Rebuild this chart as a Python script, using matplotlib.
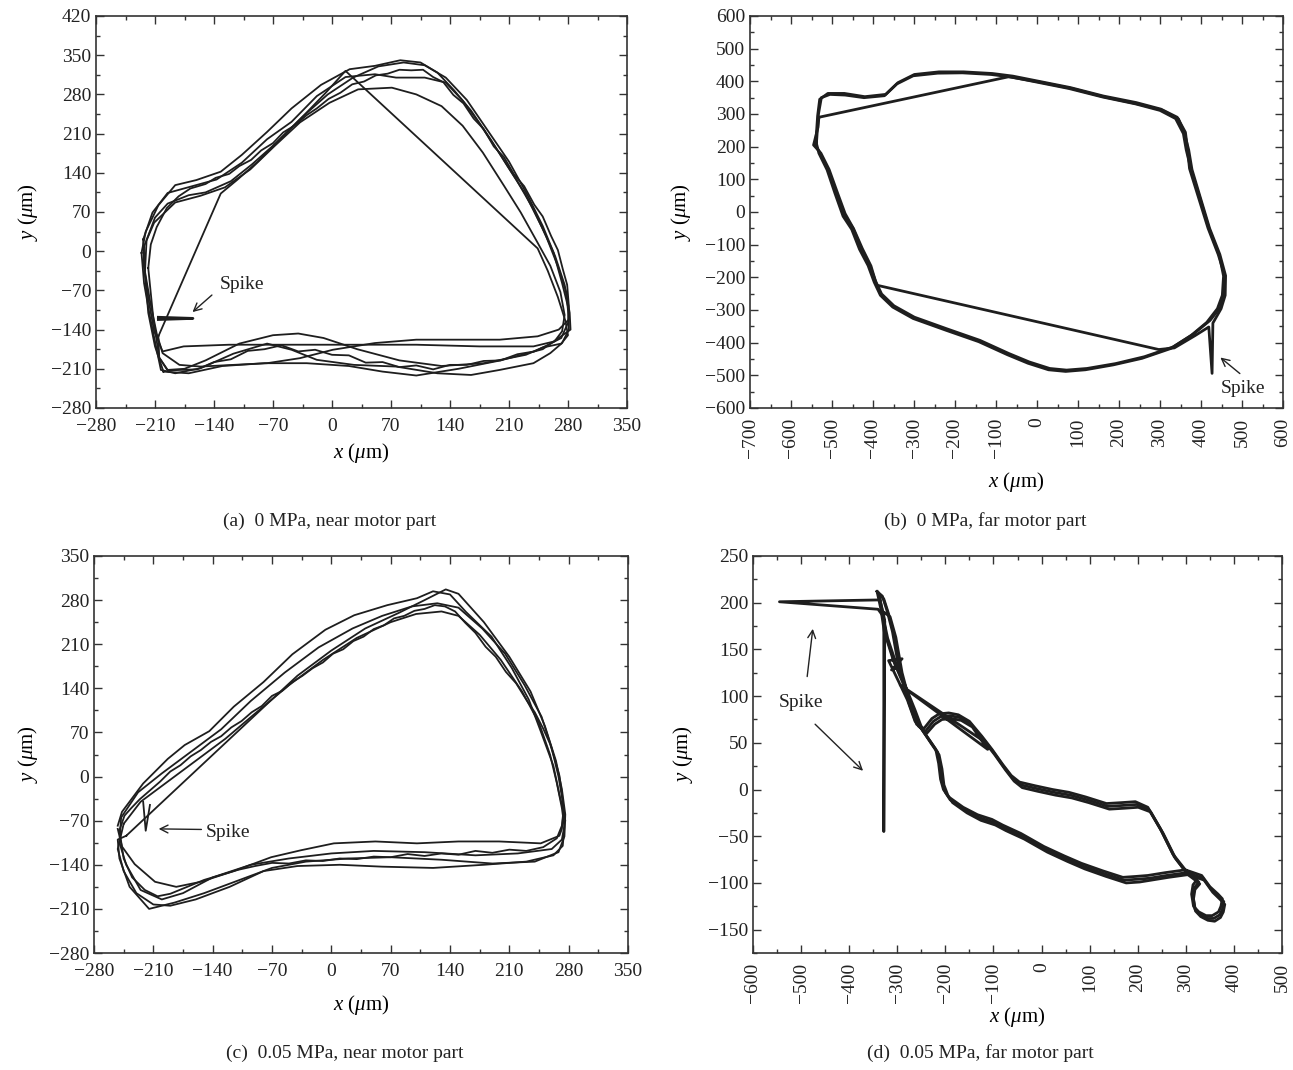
import numpy as np
import matplotlib
matplotlib.use("Agg")
import matplotlib.pyplot as plt
from matplotlib.ticker import MultipleLocator

plt.rcParams['font.family'] = ['Liberation Serif', 'DejaVu Serif']
plt.rcParams['font.size'] = 14
plt.rcParams['mathtext.fontset'] = 'custom'
plt.rcParams['mathtext.rm'] = 'Liberation Serif'
plt.rcParams['mathtext.it'] = 'Liberation Serif:italic'

LINE = '#1e1e1e'

# ---------------- (a) 0 MPa, near motor part ----------------
a_lap1_x = [-226, -221, -206, -186, -161, -132, -107, -77, -48, -13, 21, 51, 81, 105, 125, 145, 165, 189, 209,
            229, 249, 263, 273, 281, 281, 273, 259, 239, 199, 165, 125, 76, 26, -18, -48, -77, -117, -156, -186,
            -203, -208, -216, -223, -226]
a_lap1_y = [-3, 35, 82, 118, 127, 142, 172, 213, 255, 297, 325, 331, 341, 337, 319, 287, 251, 198, 150,
            103, 43, -3, -57, -105, -140, -164, -182, -200, -212, -221, -218, -206, -203, -194, -176, -165, -183,
            -209, -218, -212, -176, -117, -57, -3]
a_lap2_x = [-223, -211, -186, -156, -127, -97, -68, -38, -3, 31, 71, 100, 130, 155, 179, 204, 224, 244, 259,
            271, 276, 273, 264, 239, 175, 100, 26, -48, -122, -176, -201, -211, -218, -223, -223]
a_lap2_y = [9, 51, 87, 99, 114, 146, 188, 230, 265, 289, 292, 280, 259, 224, 176, 117, 69, 15, -26,
            -73, -114, -143, -161, -170, -170, -167, -167, -167, -167, -170, -179, -143, -84, -27, 9]
a_lap3_x = [-224, -213, -195, -166, -137, -107, -77, -48, -18, 16, 51, 76, 110, 135, 155, 175, 199, 219, 239,
            254, 268, 278, 281, 269, 244, 199, 150, 100, 51, 1, -38, -77, -117, -156, -181, -201, -208, -216,
            -223, -224]
a_lap3_y = [21, 69, 104, 116, 128, 158, 200, 231, 277, 311, 316, 310, 310, 301, 269, 228, 174, 127, 75,
            27, -27, -74, -122, -140, -152, -158, -158, -158, -164, -176, -191, -200, -203, -206, -203, -182,
            -147, -88, -27, 21]
a_lap4_x = [-206, -132, -112, -88, -62, -35, -8, 16, 244, 256, 268, 277, 280, 272, 250, 230, 180, 130, 80,
            30, -10, -40, -70, -110, -150, -175, -195, -205, -206]
a_lap4_y = [-152, 103, 128, 160, 200, 240, 282, 322, 5, -35, -82, -125, -150, -165, -172, -185, -200, -205,
            -195, -175, -155, -147, -150, -165, -195, -210, -212, -190, -152]
a_lap5_x = [-200, -210, -218, -222, -220, -210, -195, -170, -150, -120, -95, -65, -35, -5, 25, 55, 85, 110,
            135, 160, 185, 210, 232, 250, 265, 276, 282, 283, 250, 200, 150, 100, 60, 20, -30, -80, -130, -170,
            -200]
a_lap5_y = [-215, -170, -110, -40, 20, 60, 85, 100, 105, 125, 155, 195, 240, 280, 310, 330, 337, 332,
            310, 270, 215, 160, 100, 45, -10, -60, -110, -140, -175, -195, -210, -222, -215, -205, -200, -200,
            -205, -218, -215]
a_lap6_x = [-218, -215, -208, -196, -182, -168, -150, -138, -122, -110, -96, -84, -70, -58, -44, -30, -18, -4,
            10, 24, 38, 52, 66, 80, 94, 108, 120, 132, 144, 156, 168, 180, 192, 204, 216, 228, 240, 250, 260,
            268, 274, 279, 281, 280, 272, 258, 240, 220, 200, 180, 160, 140, 120, 100, 80, 60, 40, 20, 0, -20,
            -40, -60, -80, -100, -120, -140, -160, -180, -195, -205, -208, -212, -215, -218]
a_lap6_y = [-30, 12, 43, 77, 98, 112, 120, 131, 138, 152, 163, 180, 193, 212, 225, 243, 255, 272,
            283, 298, 303, 314, 317, 324, 323, 324, 311, 302, 279, 264, 237, 218, 187, 168, 137, 116, 83, 62, 27,
            2, -33, -60, -98, -128, -155, -166, -179, -184, -195, -196, -203, -203, -211, -204, -207, -198, -199,
            -186, -185, -176, -179, -168, -175, -178, -193, -198, -211, -212, -213, -190, -160, -120, -75, -30]
a_spike_x = [-206, -165, -206]
a_spike_y = [-118, -120, -122]

# ---------------- (b) 0 MPa, far motor part ----------------
b_lap1_x = [-540, -535, -530, -510, -470, -420, -369, -339, -299, -239, -179, -109, -59, 1, 81, 162, 242,
            302, 342, 362, 367, 372, 392, 417, 442, 457, 457, 447, 422, 382, 332, 262, 192, 122, 72, 31, -19,
            -69, -139, -219, -299, -349, -379, -394, -409, -429, -449, -470, -490, -510, -530, -540]
b_lap1_y = [204, 295, 345, 363, 363, 353, 360, 396, 421, 429, 429, 424, 416, 401, 381, 355, 335,
            315, 290, 244, 194, 133, 52, -49, -130, -191, -251, -292, -332, -373, -413, -443, -464, -479,
            -484, -479, -459, -433, -393, -358, -322, -287, -251, -211, -160, -110, -49, -9, 62, 133, 183, 204]
b_lap2_x = [-532, -69, 5, 85, 165, 245, 305, 345, 360, 370, 378, 397, 421, 446, 460, 459, 449, 429, 427,
            419, 386, 335, 297, -391, -405, -426, -447, -468, -487, -507, -527, -545, -534, -532]
b_lap2_y = [290, 414, 398, 378, 352, 331, 312, 285, 240, 190, 130, 50, -50, -130, -195, -255, -296, -340,
            -494, -352, -378, -416, -421, -224, -165, -112, -52, -5, 60, 130, 180, 205, 260, 290]
b_lap3_x = [-538, -533, -526, -505, -468, -422, -372, -342, -302, -242, -182, -112, -62, -2, 78, 160,
            240, 300, 338, 357, 364, 376, 396, 420, 445, 455, 452, 440, 414, 375, 326, 256, 186, 118, 70,
            28, -22, -72, -142, -222, -302, -352, -382, -397, -412, -433, -452, -473, -493, -512, -532, -538]
b_lap3_y = [210, 300, 350, 360, 358, 350, 356, 392, 417, 425, 426, 421, 413, 398, 378, 352,
            331, 311, 286, 240, 190, 128, 48, -52, -134, -196, -255, -296, -338, -379, -418, -448, -468, -483,
            -488, -483, -463, -437, -397, -362, -326, -291, -255, -215, -164, -114, -53, -13, 58, 129, 180, 210]

# ---------------- (c) 0.05 MPa, near motor part ----------------
c_lap1_x = [-252, -247, -222, -193, -173, -144, -115, -80, -46, -7, 27, 66, 101, 120, 140, 159, 189, 213,
            233, 247, 262, 269, 274, 272, 269, 247, 198, 150, 101, 52, 3, -36, -71, -115, -154, -183, -208,
            -232, -247, -252]
c_lap1_y = [-78, -56, -11, 28, 50, 72, 111, 150, 194, 233, 256, 272, 283, 294, 289, 261, 222, 172,
            122, 72, 17, -28, -56, -83, -94, -106, -103, -103, -106, -103, -106, -117, -128, -150, -167, -175,
            -167, -139, -111, -83]
c_lap2_x = [-245, -225, -195, -160, -125, -90, -50, -10, 30, 70, 100, 130, 150, 175, 200, 225, 245, 258,
            266, 272, 275, 273, 262, 230, 180, 120, 60, 10, -40, -80, -120, -160, -190, -210, -230, -245,
            -252, -245]
c_lap2_y = [-75, -40, -10, 25, 60, 100, 145, 185, 220, 245, 258, 262, 255, 225, 185, 135, 85, 35,
            -10, -50, -80, -110, -125, -135, -140, -145, -143, -140, -142, -150, -175, -195, -205, -203, -185,
            -150, -115, -75]
c_lap3_x = [-248, -228, -200, -165, -130, -95, -55, -15, 25, 60, 95, 125, 150, 178, 205, 228, 248, 260,
            268, 273, 276, 272, 260, 220, 170, 110, 50, 0, -50, -95, -140, -175, -200, -225, -242, -250, -248]
c_lap3_y = [-65, -25, 5, 40, 75, 120, 165, 205, 235, 255, 270, 275, 268, 235, 195, 145, 95, 45,
            0, -40, -70, -100, -115, -122, -125, -120, -118, -122, -130, -140, -160, -185, -195, -180, -140,
            -105, -65]
c_lap4_x = [-242, -68, -40, 0, 40, 80, 110, 135, 150, 180, 210, 235, 252, 265, 272, 276, 275, 268, 240,
            190, 130, 70, 20, -30, -70, -110, -150, -185, -215, -238, -250, -252, -242]
c_lap4_y = [-94, 125, 160, 200, 235, 260, 280, 297, 290, 245, 190, 135, 80, 25, -20, -60, -95, -120,
            -135, -138, -132, -128, -130, -135, -145, -165, -185, -200, -210, -175, -130, -100, -94]
c_lap5_x = [-250, -244, -236, -226, -214, -202, -190, -178, -166, -154, -142, -130, -118, -106, -94, -82, -70,
            -58, -46, -34, -22, -10, 2, 14, 26, 38, 50, 62, 74, 86, 98, 110, 122, 134, 146, 158, 170, 182, 194,
            206, 218, 230, 240, 250, 258, 264, 269, 272, 274, 272, 266, 250, 230, 210, 190, 170, 150, 130, 110,
            90, 70, 50, 30, 10, -10, -30, -50, -70, -90, -110, -130, -150, -170, -190, -205, -220, -235, -245,
            -250]
c_lap5_y = [-85, -62, -50, -36, -22, -8, 8, 18, 32, 42, 55, 64, 78, 88, 102, 112, 128,
            136, 150, 160, 172, 181, 195, 202, 215, 222, 234, 240, 251, 255, 263, 266, 272, 270, 262, 244, 228,
            206, 190, 166, 148, 122, 102, 76, 52, 26, 2, -26, -52, -78, -98, -112, -118, -116, -121, -118, -124,
            -122, -126, -123, -128, -127, -131, -130, -134, -133, -138, -137, -142, -148, -156, -164, -175, -186,
            -190, -180, -160, -130, -85]
c_spike_x = [-222, -219, -214]
c_spike_y = [-40, -86, -45]

# ---------------- (d) 0.05 MPa, far motor part ----------------
d_lap1_x = [-339, -330, -324, -305, -285, -268, -251, -232, -216, -210, -207, -200, -190, -160, -130, -100,
            -78, -40, 8, 50, 86, 130, 172, 200, 224, 260, 302, 336, 353, 370, 379, 376, 371, 358, 345, 330,
            319, 315, 318, 327, 315, 302, 276, 250, 224, 198, 170, 138, 95, 60, 26, -10, -43, -60, -78, -100,
            -121, -147, -170, -190, -210, -225, -242, -260, -276, -294, -307, -318, -328, -339]
d_lap1_y = [210, 190, 166, 135, 112, 88, 66, 52, 40, 25, 8, -3, -11, -22, -30, -35,
            -41, -50, -64, -74, -82, -90, -97, -96, -95, -92, -89, -95, -107, -115, -120, -128, -134, -138,
            -138, -134, -128, -115, -105, -99, -94, -89, -72, -45, -22, -16, -17, -18, -11, -6, -3, 1, 5, 12,
            24, 40, 54, 70, 77, 79, 78, 73, 62, 70, 93, 128, 166, 188, 204, 210]
d_lap2_x = [-336, -545, -340, -330, -320, -300, -281, -263, -247, -229, -213, -207, -203, -195, -185, -155,
            -126, -96, -74, -36, 12, 54, 90, 134, 176, 204, 228, 264, 306, 338, 356, 372, 381, 378, 372, 360,
            346, 331, 320, 316, 319, 329, 317, 304, 279, 253, 227, 201, 173, 141, 98, 63, 29, -7, -40, -57,
            -75, -97, -118, -294, -112, -144, -167, -187, -207, -222, -239, -256, -272, -290, -303, -315,
            -328, -328, -326, -336]
d_lap2_y = [203, 201, 193, 186, 162, 131, 108, 85, 63, 49, 37, 22, 5, -6, -14, -25,
            -33, -38, -44, -53, -67, -77, -85, -93, -100, -99, -97, -94, -91, -97, -110, -118, -123, -131,
            -137, -141, -140, -136, -130, -117, -107, -101, -96, -91, -74, -47, -24, -19, -20, -21, -14, -9,
            -6, -2, 2, 9, 21, 37, 51, 112, 43, 67, 74, 76, 75, 70, 60, 68, 90, 125, 163, 185,
            190, -45, 180, 203]
d_lap3_x = [-342, -334, -327, -308, -289, -271, -255, -236, -220, -214, -210, -204, -193, -163, -133, -103,
            -81, -43, 5, 47, 83, 127, 169, 197, 221, 257, 299, 333, 350, 367, 376, 373, 368, 355, 342, 327,
            316, 312, 315, 324, 312, 299, 273, 247, 221, 195, 167, 135, 92, 57, 23, -13, -46, -63, -81, -103,
            -124, -150, -173, -193, -213, -228, -245, -263, -279, -318, -290, -312, -297, -310, -321, -331,
            -342]
d_lap3_y = [212, 193, 169, 138, 115, 91, 69, 55, 43, 28, 11, 0, -8, -19, -27, -32,
            -38, -47, -61, -71, -79, -87, -94, -93, -92, -89, -86, -92, -104, -112, -117, -125, -131, -135,
            -135, -131, -125, -112, -102, -96, -91, -86, -69, -42, -19, -13, -14, -15, -8, -3, 0, 4, 8, 15,
            27, 43, 57, 73, 80, 82, 81, 76, 65, 73, 96, 138, 140, 128, 131, 169, 191, 207, 212]

W, H = 1293, 1070
fig = plt.figure(figsize=(W / 100, H / 100), dpi=100)


def make_axes(l, t, r, b):
    return fig.add_axes([l / W, 1 - b / H, (r - l) / W, (b - t) / H])


def style(ax, xlim, ylim, xmaj, ymaj, rot=0):
    ax.set_xlim(*xlim)
    ax.set_ylim(*ylim)
    ax.xaxis.set_major_locator(MultipleLocator(xmaj))
    ax.yaxis.set_major_locator(MultipleLocator(ymaj))
    ax.xaxis.set_minor_locator(MultipleLocator(xmaj / 2))
    ax.yaxis.set_minor_locator(MultipleLocator(ymaj / 2))
    ax.tick_params(which='both', direction='in', top=True, right=True, colors='#333333',
                   labelcolor='#222222', labelsize=14)
    ax.tick_params(which='major', length=6, width=1)
    ax.tick_params(which='minor', length=3, width=1)
    ax.tick_params(axis='x', which='major', pad=7)
    for s in ax.spines.values():
        s.set_color('#333333')
        s.set_linewidth(1.2)
    if rot:
        for lab in ax.get_xticklabels():
            lab.set_rotation(rot)
    ax.set_xlabel(r'$x$ ($\mu$m)', fontsize=15)
    ax.set_ylabel(r'$y$ ($\mu$m)', fontsize=15)


def spike_note(ax, text_xy, tails, tips, ha='center'):
    ax.text(text_xy[0], text_xy[1], 'Spike', ha=ha, va='center', fontsize=14, color='#222222')
    for tail, tip in zip(tails, tips):
        ax.annotate('', xy=tip, xytext=tail,
                    arrowprops=dict(arrowstyle='->', lw=1.0, color='#222222', mutation_scale=14))


def place_labels(ax, xl, yl):
    ax.xaxis.set_label_coords(0.5, xl)
    ax.xaxis.label.set_va('center')
    ax.yaxis.set_label_coords(yl, 0.5)
    ax.yaxis.label.set_va('center')


# (a)
ax = make_axes(96, 16, 627, 408)
for lx, ly in [(a_lap1_x, a_lap1_y), (a_lap2_x, a_lap2_y), (a_lap3_x, a_lap3_y),
               (a_lap4_x, a_lap4_y), (a_lap5_x, a_lap5_y), (a_lap6_x, a_lap6_y)]:
    ax.plot(lx, ly, color=LINE, lw=1.3)
ax.plot(a_spike_x, a_spike_y, color=LINE, lw=2.0)
style(ax, (-280, 350), (-280, 420), 70, 70)
spike_note(ax, (-133, -60), [(-140, -75)], [(-168, -112)], ha='left')
place_labels(ax, -0.115, -0.128)

# (b)
ax = make_axes(750, 16, 1283, 408)
for lx, ly in [(b_lap1_x, b_lap1_y), (b_lap2_x, b_lap2_y), (b_lap3_x, b_lap3_y)]:
    ax.plot(lx, ly, color=LINE, lw=2.0)
style(ax, (-700, 600), (-600, 600), 100, 100, rot=90)
spike_note(ax, (502, -540), [(500, -500)], [(442, -440)])
place_labels(ax, -0.19, -0.13)

# (c)
ax = make_axes(94, 556, 628, 953)
for lx, ly in [(c_lap1_x, c_lap1_y), (c_lap2_x, c_lap2_y), (c_lap3_x, c_lap3_y), (c_lap4_x, c_lap4_y),
               (c_lap5_x, c_lap5_y)]:
    ax.plot(lx, ly, color=LINE, lw=1.3)
ax.plot(c_spike_x, c_spike_y, color=LINE, lw=1.3)
style(ax, (-280, 350), (-280, 350), 70, 70)
spike_note(ax, (-148, -89), [(-150, -84)], [(-207, -83)], ha='left')
place_labels(ax, -0.13, -0.124)

# (d)
ax = make_axes(753, 556, 1282, 953)
for lx, ly in [(d_lap1_x, d_lap1_y), (d_lap2_x, d_lap2_y), (d_lap3_x, d_lap3_y)]:
    ax.plot(lx, ly, color=LINE, lw=2.0)
style(ax, (-600, 500), (-175, 250), 100, 50, rot=90)
ax.yaxis.set_minor_locator(MultipleLocator(25))
spike_note(ax, (-501, 93), [(-488, 118), (-475, 72)], [(-475, 175), (-367, 18)])
place_labels(ax, -0.162, -0.132)

# captions
captions = ['(a)  0 MPa, near motor part', '(b)  0 MPa, far motor part',
            '(c)  0.05 MPa, near motor part', '(d)  0.05 MPa, far motor part']
cap_pos = [(330, 521), (985, 521), (345, 1053), (980, 1053)]
for txt, (px, py) in zip(captions, cap_pos):
    fig.text(px / W, 1 - py / H, txt, ha='center', va='center', fontsize=14, color='#222222')

fig.savefig('out.png', dpi=100)
